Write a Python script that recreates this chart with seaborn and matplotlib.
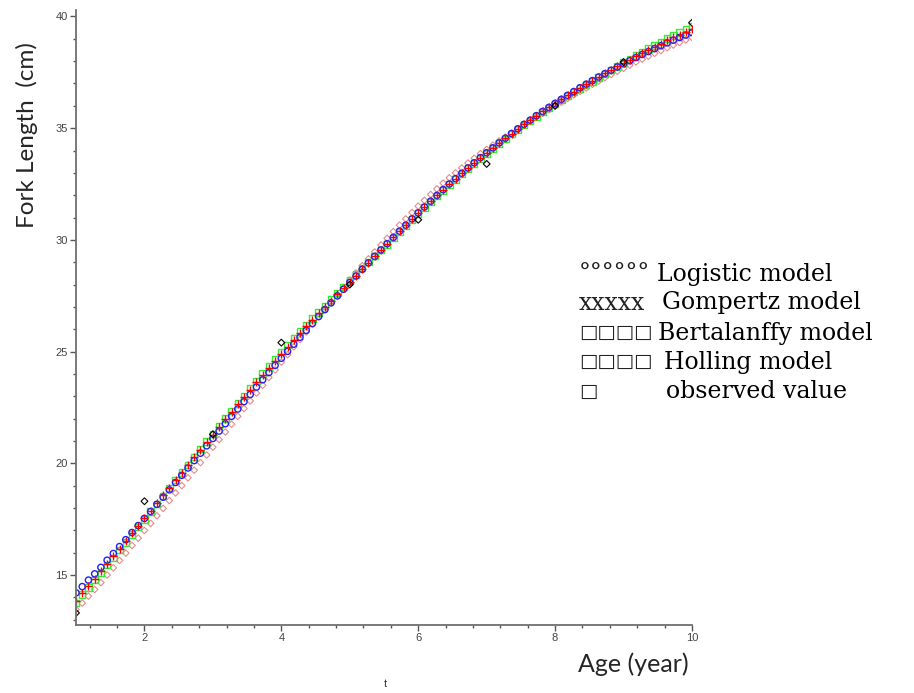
import numpy as np
import matplotlib
matplotlib.use("Agg")
import matplotlib.pyplot as plt
import seaborn as sns
from matplotlib.ticker import MultipleLocator

# ages: 100 evenly spaced evaluation points (Maple plot grid)
age = np.linspace(1, 10, 100)

logistic = [14.20, 14.48, 14.77, 15.05, 15.34, 15.66, 15.96, 16.27, 16.58, 16.90,
            17.21, 17.53, 17.84, 18.16, 18.48, 18.81, 19.14, 19.46, 19.79, 20.12,
            20.45, 20.78, 21.11, 21.44, 21.77, 22.10, 22.43, 22.76, 23.08, 23.41,
            23.74, 24.06, 24.38, 24.70, 25.01, 25.33, 25.64, 25.95, 26.26, 26.57,
            26.88, 27.18, 27.49, 27.79, 28.09, 28.38, 28.68, 28.97, 29.26, 29.55,
            29.83, 30.11, 30.39, 30.66, 30.94, 31.21, 31.47, 31.73, 31.99, 32.25,
            32.50, 32.74, 32.98, 33.22, 33.45, 33.68, 33.90, 34.12, 34.34, 34.55,
            34.76, 34.97, 35.17, 35.36, 35.56, 35.75, 35.93, 36.11, 36.29, 36.47,
            36.64, 36.81, 36.97, 37.13, 37.29, 37.44, 37.59, 37.74, 37.88, 38.02,
            38.16, 38.30, 38.43, 38.56, 38.69, 38.82, 38.94, 39.06, 39.17, 39.28]

gompertz = [13.85, 14.19, 14.52, 14.84, 15.16, 15.51, 15.84, 16.18, 16.52, 16.87,
            17.21, 17.55, 17.88, 18.22, 18.56, 18.91, 19.25, 19.58, 19.92, 20.26,
            20.60, 20.94, 21.28, 21.62, 21.96, 22.30, 22.64, 22.97, 23.29, 23.62,
            23.95, 24.27, 24.59, 24.91, 25.22, 25.53, 25.83, 26.13, 26.42, 26.71,
            27.00, 27.28, 27.57, 27.85, 28.13, 28.40, 28.68, 28.97, 29.26, 29.55,
            29.83, 30.11, 30.39, 30.66, 30.94, 31.21, 31.47, 31.73, 31.99, 32.25,
            32.50, 32.74, 32.98, 33.22, 33.45, 33.68, 33.90, 34.12, 34.34, 34.55,
            34.76, 34.97, 35.17, 35.36, 35.56, 35.75, 35.93, 36.11, 36.29, 36.47,
            36.64, 36.81, 36.97, 37.13, 37.29, 37.45, 37.61, 37.77, 37.92, 38.07,
            38.22, 38.37, 38.51, 38.65, 38.79, 38.93, 39.06, 39.19, 39.31, 39.43]

bertalanffy = [13.75, 14.12, 14.45, 14.77, 15.09, 15.44, 15.77, 16.11, 16.45, 16.80,
               17.14, 17.49, 17.83, 18.18, 18.53, 18.89, 19.24, 19.58, 19.93, 20.28,
               20.63, 20.98, 21.32, 21.66, 22.00, 22.34, 22.68, 23.02, 23.36, 23.69,
               24.02, 24.34, 24.66, 24.98, 25.29, 25.60, 25.89, 26.18, 26.47, 26.76,
               27.05, 27.33, 27.62, 27.90, 28.18, 28.45, 28.73, 29.00, 29.27, 29.54,
               29.80, 30.08, 30.36, 30.63, 30.91, 31.18, 31.44, 31.70, 31.96, 32.22,
               32.47, 32.71, 32.95, 33.19, 33.42, 33.65, 33.87, 34.09, 34.31, 34.52,
               34.73, 34.94, 35.14, 35.33, 35.53, 35.72, 35.90, 36.08, 36.26, 36.44,
               36.61, 36.78, 36.94, 37.10, 37.26, 37.43, 37.60, 37.77, 37.93, 38.09,
               38.25, 38.41, 38.56, 38.71, 38.86, 39.01, 39.15, 39.29, 39.42, 39.55]

holling = [13.45, 13.74, 14.05, 14.35, 14.66, 15.00, 15.32, 15.65, 15.98, 16.32,
           16.65, 16.99, 17.31, 17.65, 17.98, 18.33, 18.67, 19.00, 19.35, 19.69,
           20.03, 20.37, 20.72, 21.06, 21.40, 21.75, 22.10, 22.45, 22.79, 23.14,
           23.49, 23.84, 24.18, 24.53, 24.86, 25.21, 25.54, 25.88, 26.21, 26.55,
           26.88, 27.21, 27.55, 27.87, 28.20, 28.52, 28.84, 29.15, 29.46, 29.77,
           30.07, 30.37, 30.66, 30.94, 31.23, 31.51, 31.77, 32.03, 32.28, 32.54,
           32.78, 33.00, 33.22, 33.44, 33.65, 33.86, 34.05, 34.24, 34.43, 34.60,
           34.78, 34.96, 35.14, 35.31, 35.49, 35.66, 35.82, 35.99, 36.16, 36.33,
           36.49, 36.65, 36.80, 36.96, 37.11, 37.26, 37.40, 37.55, 37.68, 37.82,
           37.96, 38.09, 38.22, 38.35, 38.47, 38.60, 38.72, 38.84, 38.95, 39.06]

obs_age = [1, 2, 3, 4, 5, 6, 7, 8, 9, 10]
observed = [13.3, 18.3, 21.3, 25.4, 28.0, 30.9, 33.4, 36.0, 37.96, 39.72]

legend_marks = ["°°°°°°", "xxxxx", "□□□□", "□□□□", "□"]
legend_names = ["Logistic model", "Gompertz model", "Bertalanffy model",
                "Holling model", "observed value"]

sns.set_style("white")

fig = plt.figure(figsize=(9.14, 6.93), dpi=100)
ax = fig.add_axes([76/914, 68/693, 616/914, 615/693])

# draw order: holling behind, observed on top
sns.scatterplot(x=age, y=holling, marker="D", s=11, facecolor="none",
                edgecolor="#e88a8a", linewidth=0.8, ax=ax)
sns.scatterplot(x=age, y=bertalanffy, marker="s", s=22, facecolor="none",
                edgecolor="#33ee33", linewidth=1.0, ax=ax)
sns.scatterplot(x=age, y=logistic, marker="o", s=20, facecolor="none",
                edgecolor="#2020ff", linewidth=1.0, ax=ax)
sns.scatterplot(x=age, y=gompertz, marker="+", s=30, color="#ff0000",
                linewidth=1.0, ax=ax)
sns.scatterplot(x=obs_age, y=observed, marker="D", s=12, facecolor="none",
                edgecolor="black", linewidth=0.8, ax=ax)

ax.set_xlim(1, 10)
ax.set_ylim(12.76, 40.29)
ax.set_xticks([2, 4, 6, 8, 10])
ax.set_yticks([15, 20, 25, 30, 35, 40])
ax.xaxis.set_minor_locator(MultipleLocator(0.4))
ax.yaxis.set_minor_locator(MultipleLocator(1))
for s in ["top", "right"]:
    ax.spines[s].set_visible(False)
for s in ["left", "bottom"]:
    ax.spines[s].set_color("#707070")
    ax.spines[s].set_linewidth(1.3)
ax.tick_params(which="major", length=4, width=1, color="#555555",
               labelsize=8, labelcolor="#444444", pad=2,
               bottom=True, left=True)
ax.tick_params(which="minor", length=2, width=1, color="#555555",
               bottom=True, left=True)
for lab in ax.get_xticklabels() + ax.get_yticklabels():
    lab.set_family("Liberation Sans")
ax.set_xlabel("")
ax.set_ylabel("")

# axis texts
fig.text(27/914, 1 - 135/693, "Fork Length  (cm)", rotation=90, ha="center",
         va="center", fontsize=17.5, family="Lato")
fig.text(633/914, 1 - 664/693, "Age (year)", ha="center", va="center",
         fontsize=18, family="Lato")
fig.text(385/914, 1 - 684/693, "t", ha="center", va="center", fontsize=8,
         family="Liberation Sans", color="#333333")

# hand-written legend
rows_y = [274, 303, 333, 362, 392]
name_x = [657, 662, 658, 664, 666]
mark_size = [17, 17, 14, 14, 14]
for mark, name, y, nx, ms in zip(legend_marks, legend_names, rows_y, name_x, mark_size):
    fig.text(579/914, 1 - y/693, mark, ha="left", va="center", fontsize=ms,
             family=["DejaVu Serif", "DejaVu Sans"], color="#222222")
    fig.text(nx/914, 1 - y/693, name, ha="left", va="center", fontsize=17,
             family="DejaVu Serif", color="black")

fig.savefig("out.png", dpi=100)
